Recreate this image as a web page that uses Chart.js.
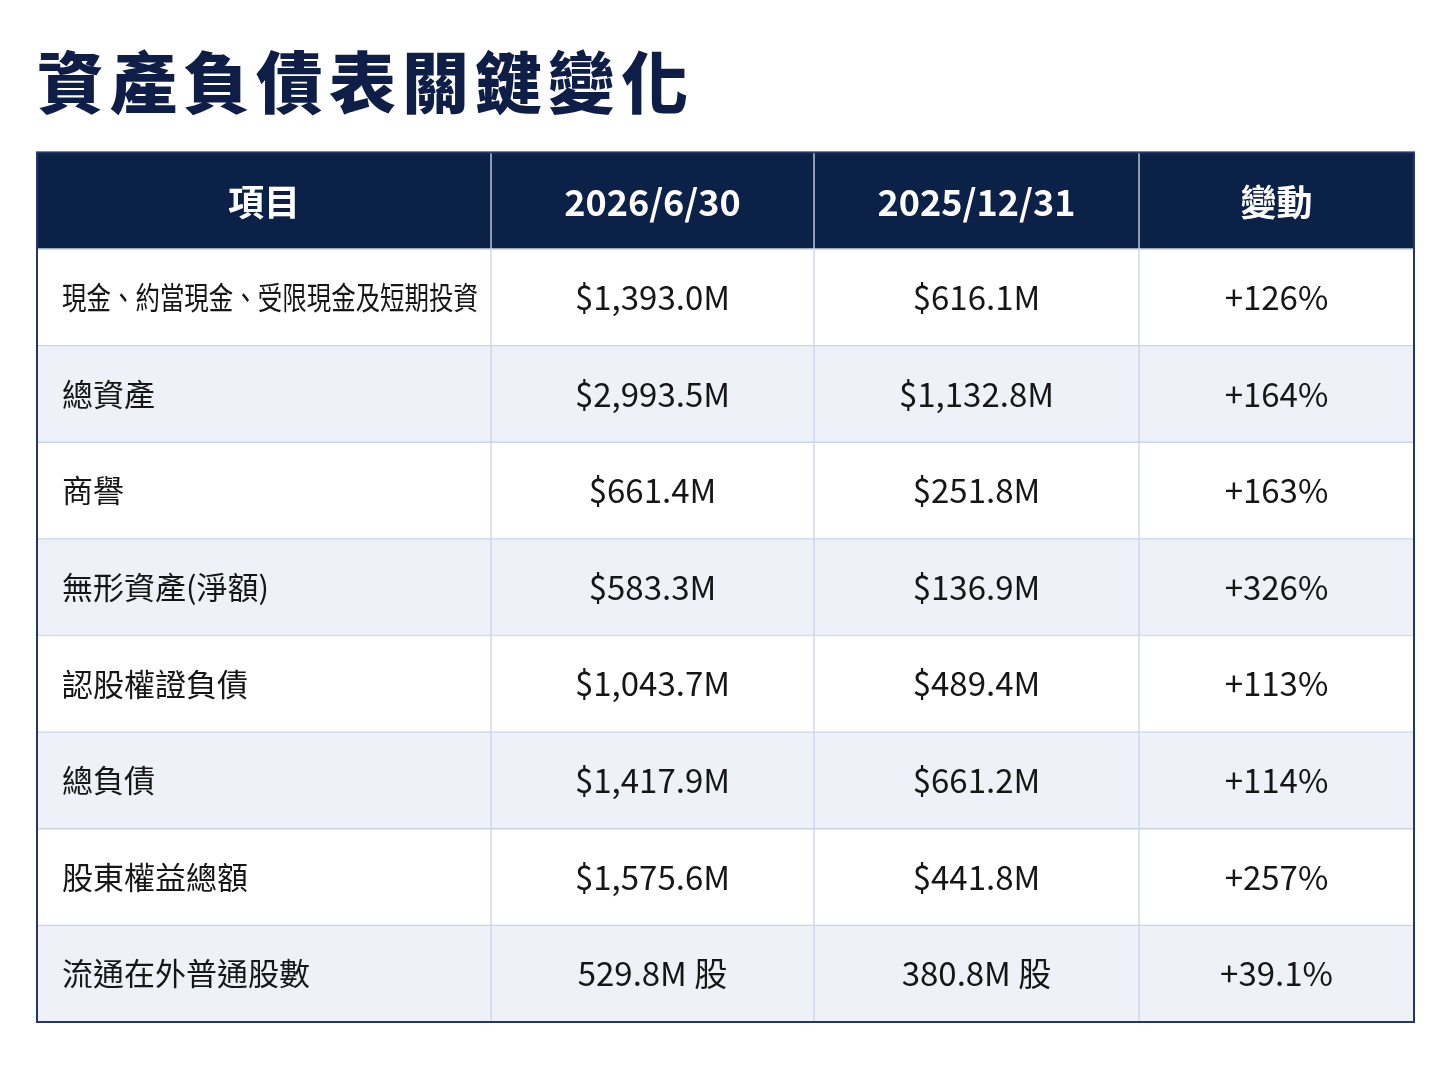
<!DOCTYPE html>
<html>
<head>
<meta charset="utf-8">
<script src="https://cdn.jsdelivr.net/npm/chart.js@4"></script>
<style>
  html, body { margin: 0; padding: 0; background: #ffffff; }
  #wrap { width: 1448px; height: 1086px; }
</style>
</head>
<body>
<div id="wrap"><canvas id="tableChart"></canvas></div>
<script>
// 표 데이터
const headers = ["項目", "2026/6/30", "2025/12/31", "變動"];
const items = [
	"現金、約當現金、受限現金及短期投資",
	"總資產",
	"商譽",
	"無形資產(淨額)",
	"認股權證負債",
	"總負債",
	"股東權益總額",
	"流通在外普通股數"
];
const values2026 = ["$1,393.0M", "$2,993.5M", "$661.4M", "$583.3M", "$1,043.7M", "$1,417.9M", "$1,575.6M", "529.8M 股"];
const values2025 = ["$616.1M", "$1,132.8M", "$251.8M", "$136.9M", "$489.4M", "$661.2M", "$441.8M", "380.8M 股"];
const changes = ["+126%", "+164%", "+163%", "+326%", "+113%", "+114%", "+257%", "+39.1%"];

// 레이아웃 (열 경계)
const colEdges = [0, 454, 777, 1102, 1377];

const NAVY = "#0c2148";
const FONT = "'Noto Sans CJK TC', 'Noto Sans', sans-serif";

const rowLabels = ["header"].concat(items.map((t, i) => "r" + i));
const columns = [
	[headers[0]].concat(items),
	[headers[1]].concat(values2026),
	[headers[2]].concat(values2025),
	[headers[3]].concat(changes)
];

function rowColor(ctx) {
	const i = ctx.dataIndex;
	if (i === 0) return NAVY;
	return (i % 2 === 0) ? "#eef2f8" : "#ffffff";
}

const datasets = columns.map(function(col, c) {
	return {
		label: headers[c],
		data: col.map(function() { return [colEdges[c], colEdges[c + 1]]; }),
		backgroundColor: rowColor,
		borderColor: "#c9d5e7",
		borderWidth: 1,
		borderSkipped: false,
		grouped: false,
		barPercentage: 1,
		categoryPercentage: 1
	};
});

// 제목 자간
const titleSpacingPlugin = {
	id: "titleSpacing",
	beforeDraw(chart) {
		chart.ctx.letterSpacing = "6px";
	},
	beforeDatasetsDraw(chart) {
		chart.ctx.letterSpacing = "0px";
	}
};

// 셀 텍스트 + 외곽선
const cellTextPlugin = {
	id: "cellText",
	afterDatasetsDraw(chart) {
		const ctx = chart.ctx;
		ctx.save();
		ctx.letterSpacing = "0px";
		chart.data.datasets.forEach(function(ds, c) {
			const meta = chart.getDatasetMeta(c);
			meta.data.forEach(function(bar, r) {
				const p = bar.getProps(["x", "y", "base"], true);
				const left = Math.min(p.x, p.base);
				const right = Math.max(p.x, p.base);
				const text = columns[c][r];
				ctx.textBaseline = "middle";
				if (r === 0) {
					ctx.fillStyle = "#ffffff";
					ctx.font = "bold 36px " + FONT;
					ctx.textAlign = "center";
					ctx.fillText(text, (left + right) / 2, p.y + 2);
				} else if (c === 0) {
					ctx.fillStyle = "#161616";
					ctx.font = "31px " + FONT;
					ctx.textAlign = "left";
					ctx.fillText(text, left + 25, p.y, right - left - 38);
				} else {
					ctx.fillStyle = "#161616";
					ctx.font = "33px " + FONT;
					ctx.textAlign = "center";
					ctx.fillText(text, (left + right) / 2, p.y);
				}
			});
		});
		const a = chart.chartArea;
		ctx.strokeStyle = "#27366a";
		ctx.lineWidth = 2;
		ctx.strokeRect(a.left, a.top, a.right - a.left, a.bottom - a.top);
		ctx.restore();
	}
};

const ctx = document.getElementById("tableChart").getContext("2d");
const balanceChart = new Chart(ctx, {
	type: "bar",
	data: {
		labels: rowLabels,
		datasets: datasets
	},
	options: {
		indexAxis: "y",
		responsive: true,
		maintainAspectRatio: false,
		animation: false,
		layout: {
			padding: { top: 18, left: 37, right: 34, bottom: 64 }
		},
		scales: {
			x: { display: false, min: colEdges[0], max: colEdges[colEdges.length - 1] },
			y: { display: false }
		},
		plugins: {
			legend: { display: false },
			tooltip: { enabled: false },
			title: {
				display: true,
				text: "資產負債表關鍵變化",
				align: "start",
				color: "#0f1e47",
				font: { family: FONT, size: 67, weight: "900" },
				padding: { top: 24, bottom: 30 }
			}
		}
	},
	plugins: [titleSpacingPlugin, cellTextPlugin]
});
</script>
</body>
</html>
